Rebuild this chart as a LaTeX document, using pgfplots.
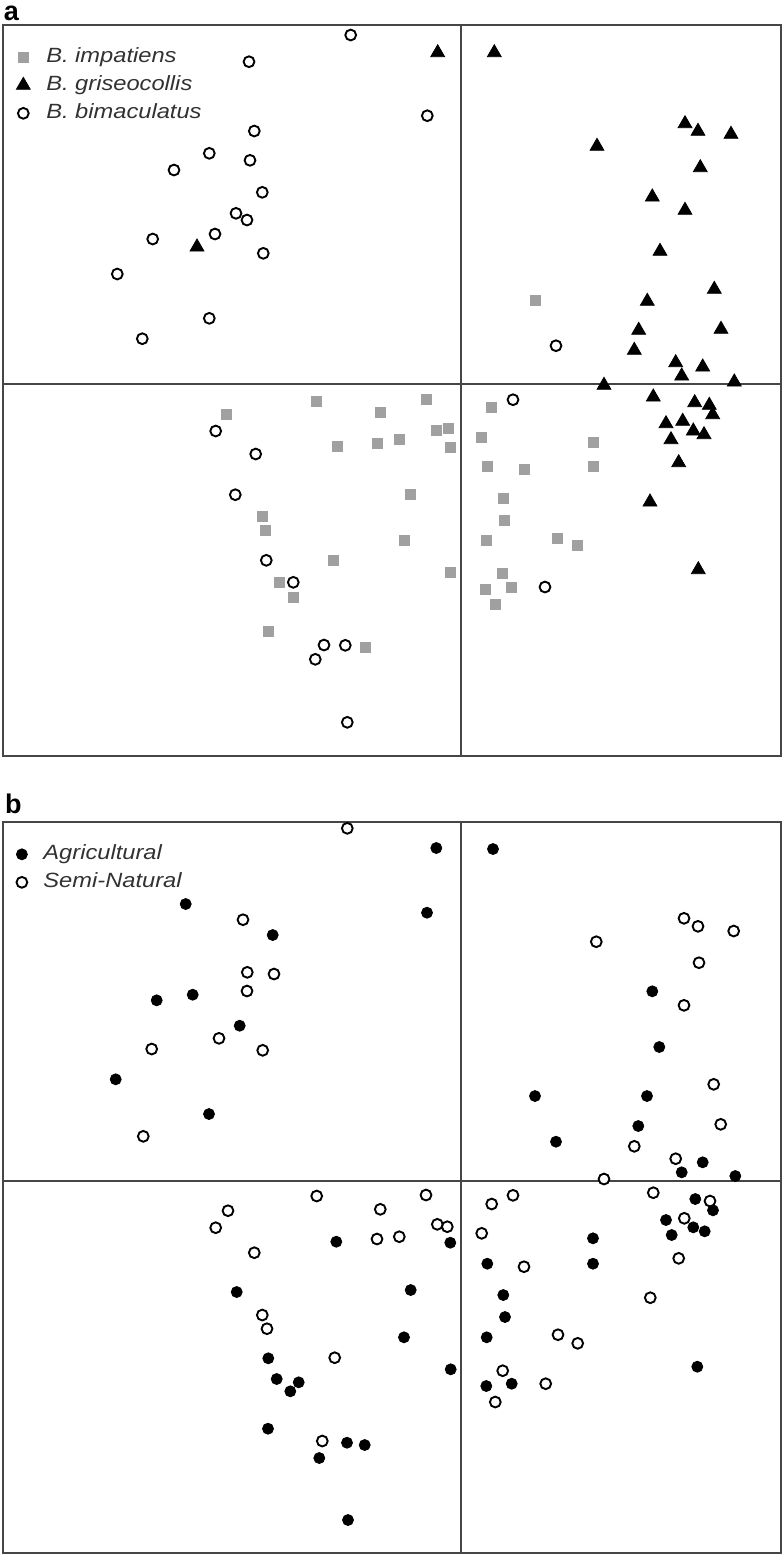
\documentclass[border=0pt]{standalone}
\usepackage{fontspec}
\usepackage{pgfplots}
\pgfplotsset{compat=1.18}
\newfontfamily\legfont[FakeStretch=1.15]{Liberation Sans}
\newfontfamily\labfont{Liberation Sans}
\definecolor{sqgray}{RGB}{160,160,160}
\definecolor{framegray}{RGB}{70,70,70}
\definecolor{txtgray}{RGB}{50,50,50}
\pgfplotsset{
  myleg/.style={legend image code/.code={\draw[mark repeat=2,mark phase=2,##1] plot coordinates {(0pt,0pt) (4pt,0pt) (8pt,0pt)};}},
  panel/.style={
    scale only axis, y dir=reverse, ticks=none,
    axis line style={draw=framegray, line width=1pt},
    legend style={draw=none, fill=none, at={(0,1)}, anchor=north west,
      xshift=6.5pt, yshift=-10.7pt, inner sep=0pt, row sep=3.5pt,
      font=\legfont\fontsize{10.3}{12}\selectfont\itshape, text=txtgray,
      nodes={inner sep=0pt, text height=8pt, text depth=2.5pt},
      /tikz/every odd column/.append style={column sep=8pt}},
    legend cell align=left,
  },
  divider/.style={no marks, draw=framegray, line width=1pt, forget plot},
  sq/.style={only marks, myleg, color=sqgray, mark=square*, mark size=2.5pt},
  tri/.style={only marks, myleg, color=black, mark=triangle*, mark size=4pt},
  oc/.style={only marks, myleg, color=black, mark=*, mark size=2.7pt, mark options={fill=white, line width=0.95pt}},
  fc/.style={only marks, myleg, color=black, mark=*, mark size=2.75pt},
}
\begin{document}
\begin{tikzpicture}
\path[use as bounding box] (0,0) rectangle (391.5pt,-777.5pt);
\node[anchor=base west, inner sep=0pt, font=\labfont\bfseries\fontsize{13.5}{15}\selectfont] at (1.7pt,-10pt) {a};
\node[anchor=base west, inner sep=0pt, font=\labfont\bfseries\fontsize{13.5}{15}\selectfont] at (2.4pt,-406.5pt) {b};

\begin{axis}[panel, at={(1.5pt,-12.5pt)}, anchor=north west,
  width=388.75pt, height=365.5pt, xmin=3, xmax=780.5, ymin=25, ymax=756]
\addplot[divider] coordinates {(461,25) (461,756)};
\addplot[divider] coordinates {(3,383.5) (780.5,383.5)};
\addplot[sq] coordinates {
(535.3,300) (426,399.3) (491.7,407.3) (436.7,430.7) (448.3,428) (399.3,439.3)
(450.7,447.3) (481.7,437.7) (593.7,442) (487.3,466.7) (524,469.3) (593.3,466.7)
(410,494) (503.3,498.3) (504.7,520.7) (404.7,540.7) (486.7,540.7) (557.3,538.7)
(577.7,545.7) (450.7,572.7) (502.3,573.7) (511,587) (485.7,589) (495.3,604.3)
(316,401.3) (226.7,414.3) (380.3,412.7) (337,446.7) (377,443.3) (262,516)
(265.3,530.7) (333.3,560.7) (279.3,582) (293.3,597) (268.7,631) (365,647.7)};
\addlegendentry{B. impatiens}
\addplot[tri] coordinates {
(437.7,52.7) (494.3,52.7) (685,123.7) (698,131.3) (731,134.3) (597,146.3)
(700.3,167.7) (652.3,197) (685,210.3) (660,251.3) (714.3,289.3) (647.3,301.3)
(638.7,330.3) (721,329.3) (634.3,350.3) (675.7,362.7) (702.7,367) (681.7,376)
(734.3,382) (604,385.3) (653.3,397) (694.7,402.7) (709.3,405.3) (712.7,414.7)
(666,423.7) (682.7,421.3) (693.3,431) (704,434.7) (671,439.7) (678.7,462.7)
(650,502) (698.3,569.7) (197,247)};
\addlegendentry{B. griseocollis}
\addplot[oc] coordinates {
(350.7,35) (249,61.7) (254.3,131) (209.3,153.3) (250,160.3) (174,170)
(262.3,192.3) (236,213.3) (247,220) (215,234) (152.7,239) (263.3,253.3)
(117.3,274) (209.3,318.3) (142.3,338.7) (427.3,115.7) (556,345.7) (513,399.7)
(545,587) (215.7,431) (255.7,454) (235.3,494.7) (266.3,560.3) (293.3,582.3)
(324,645) (345.3,645.3) (315.3,659.3) (347.3,722.3)};
\addlegendentry{B. bimaculatus}
\end{axis}

\begin{axis}[panel, at={(1.5pt,-411pt)}, anchor=north west,
  width=389pt, height=365.5pt, xmin=3, xmax=781, ymin=822, ymax=1553]
\addplot[divider] coordinates {(461,822) (461,1553)};
\addplot[divider] coordinates {(3,1181) (781,1181)};
\addplot[fc] coordinates {
(185.7,904) (272.7,935) (192.7,994.7) (156.7,1000.3) (239.7,1025.7) (115.7,1079.3) (209,1114)
(436.3,848) (493,849) (427,912.7) (652.3,991.3) (659.3,1047) (535,1096) (647,1096)
(638.3,1126) (556,1141.7) (702.7,1162.3) (681.7,1172.3) (735.3,1176)
(695.3,1199) (713,1210.3) (666,1220) (693.3,1227.3) (704.7,1231.3) (671.7,1235)
(450.3,1242.7) (593,1238.3) (487.3,1263.7) (593,1263.7) (410.7,1290) (503.3,1295)
(505,1317) (404,1337.3) (486.7,1337.3) (697.3,1366.7) (450.7,1369.3) (486.3,1386) (511.7,1383.7)
(336.3,1241.7) (236.7,1292) (268.3,1358.3) (276.7,1379) (298.7,1382.3) (290.3,1391.3)
(268,1428.7) (347,1442.7) (364.7,1445) (319.3,1458) (348,1520)};
\addlegendentry{Agricultural}
\addplot[oc] coordinates {
(347.3,828.3) (243,919.7) (247.3,972.3) (274,974) (247,991) (219,1038.3)
(151.7,1049) (262.7,1050.3) (143.3,1136.3)
(684,918.3) (698,926.3) (733.7,931) (596.3,941.7) (699,962.7) (684,1005.3)
(713.7,1084.3) (720.7,1124.3) (634.3,1146.3) (675.7,1158.7) (604,1179)
(653.3,1192.7) (710,1201) (684.3,1218.3) (678.7,1258.3) (650.3,1297.7) (426,1195)
(491.7,1204) (513,1195.3) (437.3,1224.3) (447.3,1226.7) (399.3,1236.7) (481.7,1233.3)
(524,1266.7) (558,1334.7) (577.7,1343.3) (502.7,1370.7) (545.7,1383.7) (495.3,1402)
(316.7,1196) (228,1210.7) (380.3,1209.3) (215.7,1227.7) (377,1239) (254.3,1252.7)
(262.3,1315) (267,1328.7) (334.7,1357.7) (322.3,1441)};
\addlegendentry{Semi-Natural}
\end{axis}
\end{tikzpicture}
\end{document}
